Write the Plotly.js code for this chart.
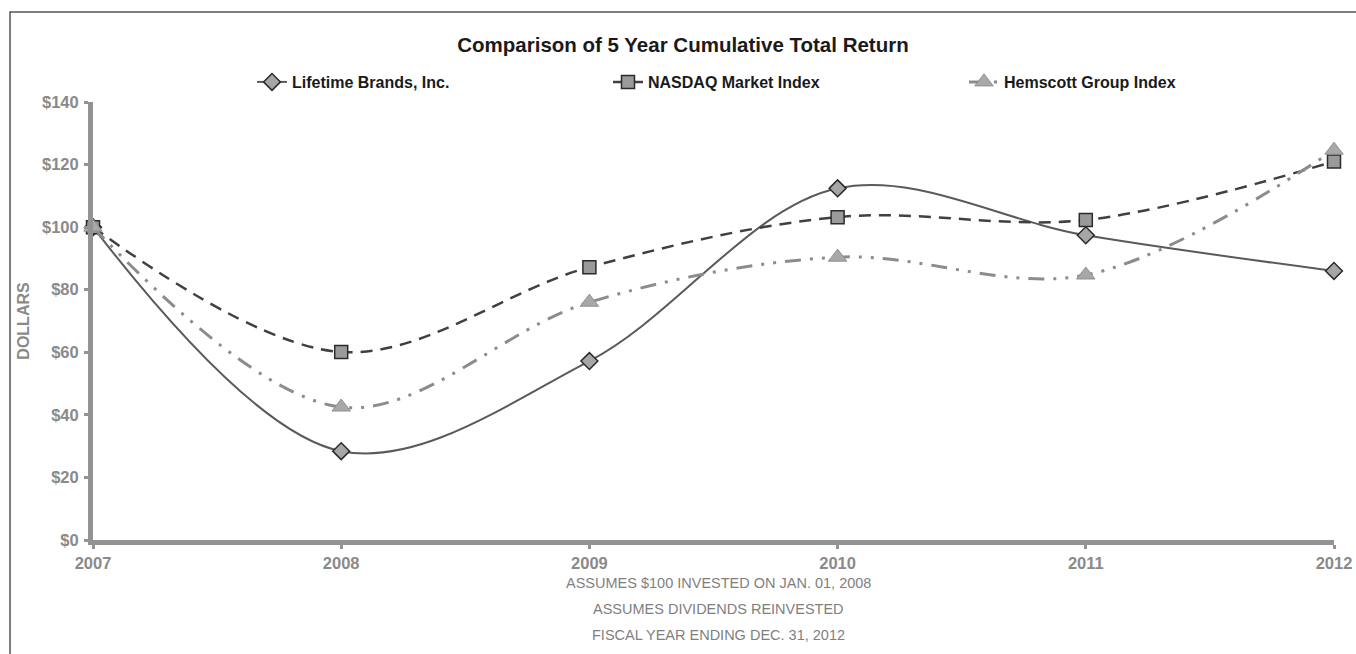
<!DOCTYPE html>
<html>
<head>
<meta charset="utf-8">
<script src="https://cdn.plot.ly/plotly-3.0.1.min.js"></script>
<style>html,body{margin:0;padding:0;background:#fff;}#chart{width:1356px;height:654px;}</style>
</head>
<body>
<div id="chart"></div>
<script>
const years = [2007, 2008, 2009, 2010, 2011, 2012];
const lifetimeBrands = [100, 28.4, 57.2, 112.4, 97.4, 86.0];
const nasdaqIndex = [100, 60.1, 87.2, 103.2, 102.3, 121.0];
const hemscottIndex = [100, 42.5, 76.0, 90.4, 84.7, 124.6];
const yTickVals = [0, 20, 40, 60, 80, 100, 120, 140];
const yTickText = ['$0', '$20', '$40', '$60', '$80', '$100', '$120', '$140'];
const footnotes = ['ASSUMES $100 INVESTED ON JAN. 01, 2008', 'ASSUMES DIVIDENDS REINVESTED', 'FISCAL YEAR ENDING DEC. 31, 2012'];

const W = 1356, H = 654, L = 93, R = 22, T = 102, B = 114;
const pw = W - L - R, ph = H - T - B;
const px = x => (x - L) / pw;
const py = y => (H - B - y) / ph;
const FONT = '"Liberation Sans", Arial, sans-serif';

const traces = [
  {
    x: years, y: lifetimeBrands, name: 'Lifetime Brands, Inc.', type: 'scatter', mode: 'lines+markers',
    line: {color: '#5a5a5a', width: 2, shape: 'spline', smoothing: 1},
    marker: {symbol: 'diamond', size: 13, color: '#a6a6a6', line: {color: '#2b2b2b', width: 1.5}},
    cliponaxis: false
  },
  {
    x: years, y: nasdaqIndex, name: 'NASDAQ Market Index', type: 'scatter', mode: 'lines+markers',
    line: {color: '#404040', width: 2.5, dash: '12px,8px', shape: 'spline', smoothing: 1},
    marker: {symbol: 'square', size: 13, color: '#9a9a9a', line: {color: '#2b2b2b', width: 1.5}},
    cliponaxis: false
  },
  {
    x: years, y: hemscottIndex, name: 'Hemscott Group Index', type: 'scatter', mode: 'lines+markers',
    line: {color: '#8c8c8c', width: 3, dash: '16px,9px,3px,9px,3px,9px', shape: 'spline', smoothing: 1},
    marker: {symbol: 'triangle-up', size: 16, color: '#a8a8a8', line: {color: '#909090', width: 1}},
    cliponaxis: false
  }
];

const annotations = footnotes.map((t, i) => ({
  text: t, xref: 'paper', yref: 'paper', x: px(718), y: py(583 + i * 26),
  showarrow: false, xanchor: 'center', yanchor: 'middle',
  font: {family: FONT, size: 14.5, color: '#7f7f7f'}
}));

const layout = {
  width: W, height: H,
  margin: {l: L, r: R, t: T, b: B},
  paper_bgcolor: '#ffffff', plot_bgcolor: '#ffffff',
  font: {family: FONT},
  title: {
    text: '<b>Comparison of 5 Year Cumulative Total Return</b>',
    x: px(683), xref: 'paper', xanchor: 'center', y: 1 - 45 / H, yanchor: 'middle',
    font: {family: FONT, size: 20.5, color: '#1a1a1a'}
  },
  showlegend: true,
  legend: {
    orientation: 'h', x: px(252), xanchor: 'left', y: py(82), yanchor: 'middle',
    entrywidth: 311, entrywidthmode: 'pixels',
    font: {family: FONT, size: 16, color: '#1a1a1a', weight: 'bold'},
    bgcolor: 'rgba(0,0,0,0)'
  },
  xaxis: {
    range: [2007, 2012], tickvals: years, ticktext: years.map(String),
    showgrid: false, zeroline: false,
    showline: true, linecolor: '#939393', linewidth: 5,
    ticks: 'outside', ticklen: 4, tickwidth: 3, tickcolor: '#939393',
    tickfont: {family: FONT, size: 16.5, color: '#8a8a8a', weight: 'bold'}
  },
  yaxis: {
    range: [0, 140], tickvals: yTickVals, ticktext: yTickText,
    showgrid: false, zeroline: false,
    showline: true, linecolor: '#939393', linewidth: 5,
    ticks: 'outside', ticklen: 4, tickwidth: 3, tickcolor: '#939393',
    ticklabelstandoff: 2,
    tickfont: {family: FONT, size: 16.5, color: '#8a8a8a', weight: 'bold'},
    title: {text: '<b>DOLLARS</b>', standoff: 10, font: {family: FONT, size: 16, color: '#8a8a8a'}}
  },
  annotations: annotations,
  shapes: [{
    type: 'rect', xref: 'paper', yref: 'paper',
    x0: px(10), x1: px(1362), y0: py(660), y1: py(12),
    line: {color: '#555555', width: 1.5}, fillcolor: 'rgba(0,0,0,0)', layer: 'below'
  }]
};

Plotly.newPlot('chart', traces, layout, {displayModeBar: false, staticPlot: true});
</script>
</body>
</html>
